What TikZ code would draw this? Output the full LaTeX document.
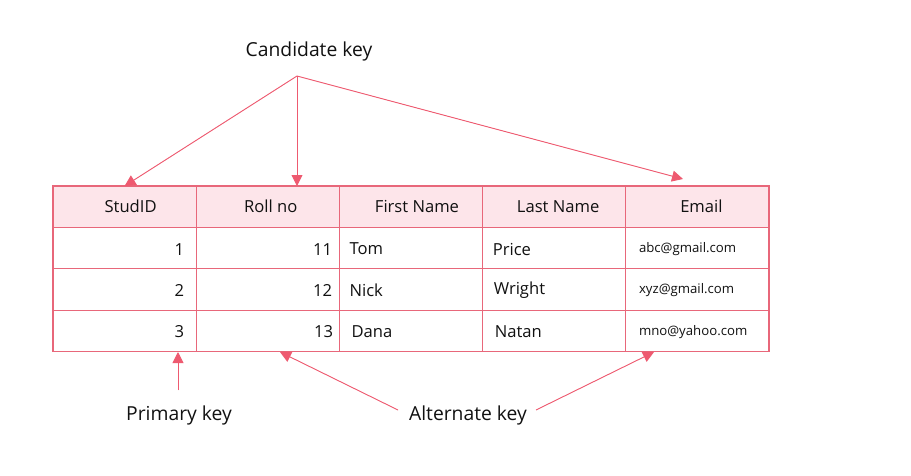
\documentclass[tikz,border=0pt]{standalone}
\usepackage{fontspec}
\setmainfont{Open Sans}
\usetikzlibrary{arrows.meta}
\definecolor{tline}{HTML}{E8677A}
\definecolor{hfill}{HTML}{FDE5EA}
\definecolor{arr}{HTML}{EE5A70}
\definecolor{txt}{HTML}{111111}
\begin{document}
\begin{tikzpicture}[x=1pt,y=-1pt,
  cell/.style={draw=tline,line width=1.1pt,minimum width=143.2pt,minimum height=41.4pt,inner sep=0pt,outer sep=0pt},
  head/.style={cell,fill=hfill},
  celltext/.style={inner sep=0pt,text=txt,font=\fontsize{16.6}{19}\selectfont},
  mailtext/.style={inner sep=0pt,text=txt,font=\fontsize{13.2}{15}\selectfont},
  label/.style={inner sep=0pt,text=txt,font=\fontsize{19.3}{23}\selectfont},
  keyarrow/.style={draw=arr,line width=0.9pt,-{Triangle[length=11pt,width=11pt]},fill=arr}]
\useasboundingbox[fill=white] (0,0) rectangle (911,475);
% cells
\foreach \c in {1,...,5}{
  \foreach \r in {0,...,3}{
    \ifnum\r=0
      \node[head] (c\r\c) at ({53+143.2*(\c-0.5)},{186+41.4*(\r+0.5)}) {};
    \else
      \node[cell] (c\r\c) at ({53+143.2*(\c-0.5)},{186+41.4*(\r+0.5)}) {};
    \fi
  }
}
% header texts
\node[celltext] (t01) at ([xshift=6pt]c01) {StudID};
\node[celltext] (t02) at ([xshift=3pt]c02) {Roll no};
\node[celltext] (t03) at ([xshift=6pt]c03) {First Name};
\node[celltext] (t04) at ([xshift=4pt]c04) {Last Name};
\node[celltext] (t05) at ([xshift=4pt]c05) {Email};
% column 1
\node[celltext,anchor=east] (t11) at ([xshift=-12pt,yshift=-1pt]c11.east) {1};
\node[celltext,anchor=east] (t21) at ([xshift=-12pt,yshift=-1pt]c21.east) {2};
\node[celltext,anchor=east] (t31) at ([xshift=-12pt,yshift=-1pt]c31.east) {3};
% column 2
\node[celltext,anchor=east] (t12) at ([xshift=-7pt,yshift=-1pt]c12.east) {11};
\node[celltext,anchor=east] (t22) at ([xshift=-7pt,yshift=-1pt]c22.east) {12};
\node[celltext,anchor=east] (t32) at ([xshift=-6pt,yshift=-1pt]c32.east) {13};
% column 3
\node[celltext,anchor=west] (t13) at ([xshift=10pt,yshift=-1pt]c13.west) {Tom};
\node[celltext,anchor=west] (t23) at ([xshift=10pt,yshift=-1pt]c23.west) {Nick};
\node[celltext,anchor=west] (t33) at ([xshift=12pt,yshift=-1pt]c33.west) {Dana};
% column 4
\node[celltext,anchor=west] (t14) at ([xshift=10pt,yshift=-1pt]c14.west) {Price};
\node[celltext,anchor=west] (t24) at ([xshift=11pt,yshift=-1pt]c24.west) {Wright};
\node[celltext,anchor=west] (t34) at ([xshift=12pt,yshift=-1pt]c34.west) {Natan};
% column 5
\node[mailtext,anchor=west] (t15) at ([xshift=13pt,yshift=-1pt]c15.west) {abc@gmail.com};
\node[mailtext,anchor=west] (t25) at ([xshift=13pt,yshift=-1pt]c25.west) {xyz@gmail.com};
\node[mailtext,anchor=west] (t35) at ([xshift=13pt,yshift=-1pt]c35.west) {mno@yahoo.com};
% labels
\node[label] (cand) at (309,51) {Candidate key};
\node[label] (prim) at (179,415) {Primary key};
\node[label] (alt) at (468,415) {Alternate key};
% arrow endpoints
\coordinate (apex) at (297,76);
\coordinate (tipA) at (c01.north);
\coordinate (tipB) at (297,186);
\coordinate (tipC) at (683,179);
\coordinate (pkfrom) at (178,390);
\coordinate (pktip) at (178,352);
\coordinate (akL) at (398,410);
\coordinate (akR) at (536,410);
\coordinate (akLtip) at (280,352);
\coordinate (akRtip) at (654,352);
% arrows
\draw[keyarrow] (apex) -- (tipA);
\draw[keyarrow] (apex) -- (tipB);
\draw[keyarrow] (apex) -- (tipC);
\draw[keyarrow] (pkfrom) -- (pktip);
\draw[keyarrow] (akL) -- (akLtip);
\draw[keyarrow] (akR) -- (akRtip);
\end{tikzpicture}
\end{document}
